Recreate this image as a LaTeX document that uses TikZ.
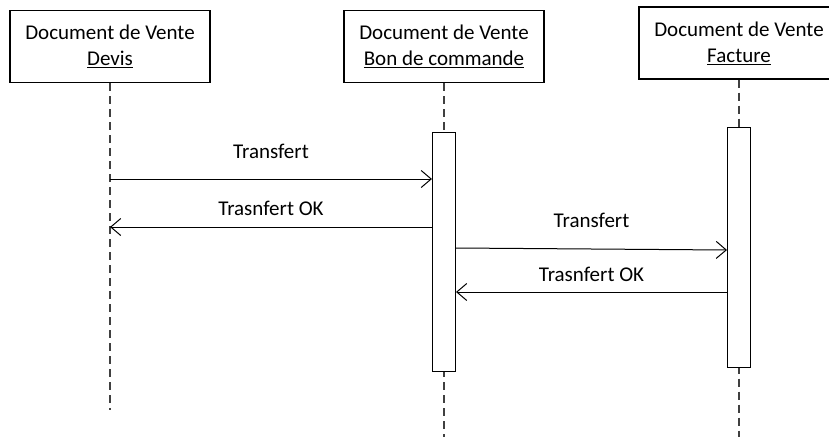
\documentclass[tikz,border=0pt]{standalone}
\usepackage{fontspec}
\setmainfont{Carlito}
\usetikzlibrary{arrows.meta}
\begin{document}
\begin{tikzpicture}[x=1pt,y=-1pt,
  obj/.style={draw, line width=1.1pt, fill=white, minimum width=200pt, minimum height=72pt, align=center, font=\fontsize{21}{26}\selectfont, inner sep=0pt},
  act/.style={draw, line width=1.1pt, fill=white, minimum width=23pt, inner sep=0pt},
  life/.style={dash pattern=on 8pt off 5pt, line width=1.1pt, draw=black!75},
  msg/.style={line width=1pt, -{Straight Barb[length=10pt,width=17pt,line width=1pt]}},
  lbl/.style={font=\fontsize{21}{26}\selectfont, inner sep=0pt}]
\useasboundingbox (0,0) rectangle (829,436);
\node[obj] (devis) at (110,46.5) {Document de Vente\\\underline{Devis}};
\node[obj] (bdc) at (444,46.5) {Document de Vente\\\underline{Bon de commande}};
\node[obj] (fact) at (739,43) {Document de Vente\\\underline{Facture}};
\coordinate (devisEnd) at (110,410);
\coordinate (bdcEnd) at (444,440);
\coordinate (factEnd) at (739,440);
\draw[life] (devis.south) -- (devisEnd);
\draw[life] (bdc.south) -- (bdcEnd);
\draw[life] (fact.south) -- (factEnd);
\node[act, minimum height=239pt, anchor=north] (a2) at (444,132) {};
\node[act, minimum height=240pt, anchor=north] (a3) at (739,127) {};
\coordinate (d1) at (110,179);
\coordinate (d2) at (110,227);
\draw[msg] (d1) -- (d1 -| a2.west) node[lbl, midway, above=20pt] {Transfert};
\draw[msg] (d2 -| a2.west) -- (d2) node[lbl, midway, above=11pt] {Trasnfert OK};
\coordinate (e1) at (456,248);
\coordinate (e2) at (456,292);
\coordinate (f1) at (727,250);
\draw[msg] (e1) -- (f1) node[lbl, midway, above=21pt] {Transfert};
\draw[msg] (e2 -| a3.west) -- (e2) node[lbl, midway, above=10pt] {Trasnfert OK};
\end{tikzpicture}
\end{document}
